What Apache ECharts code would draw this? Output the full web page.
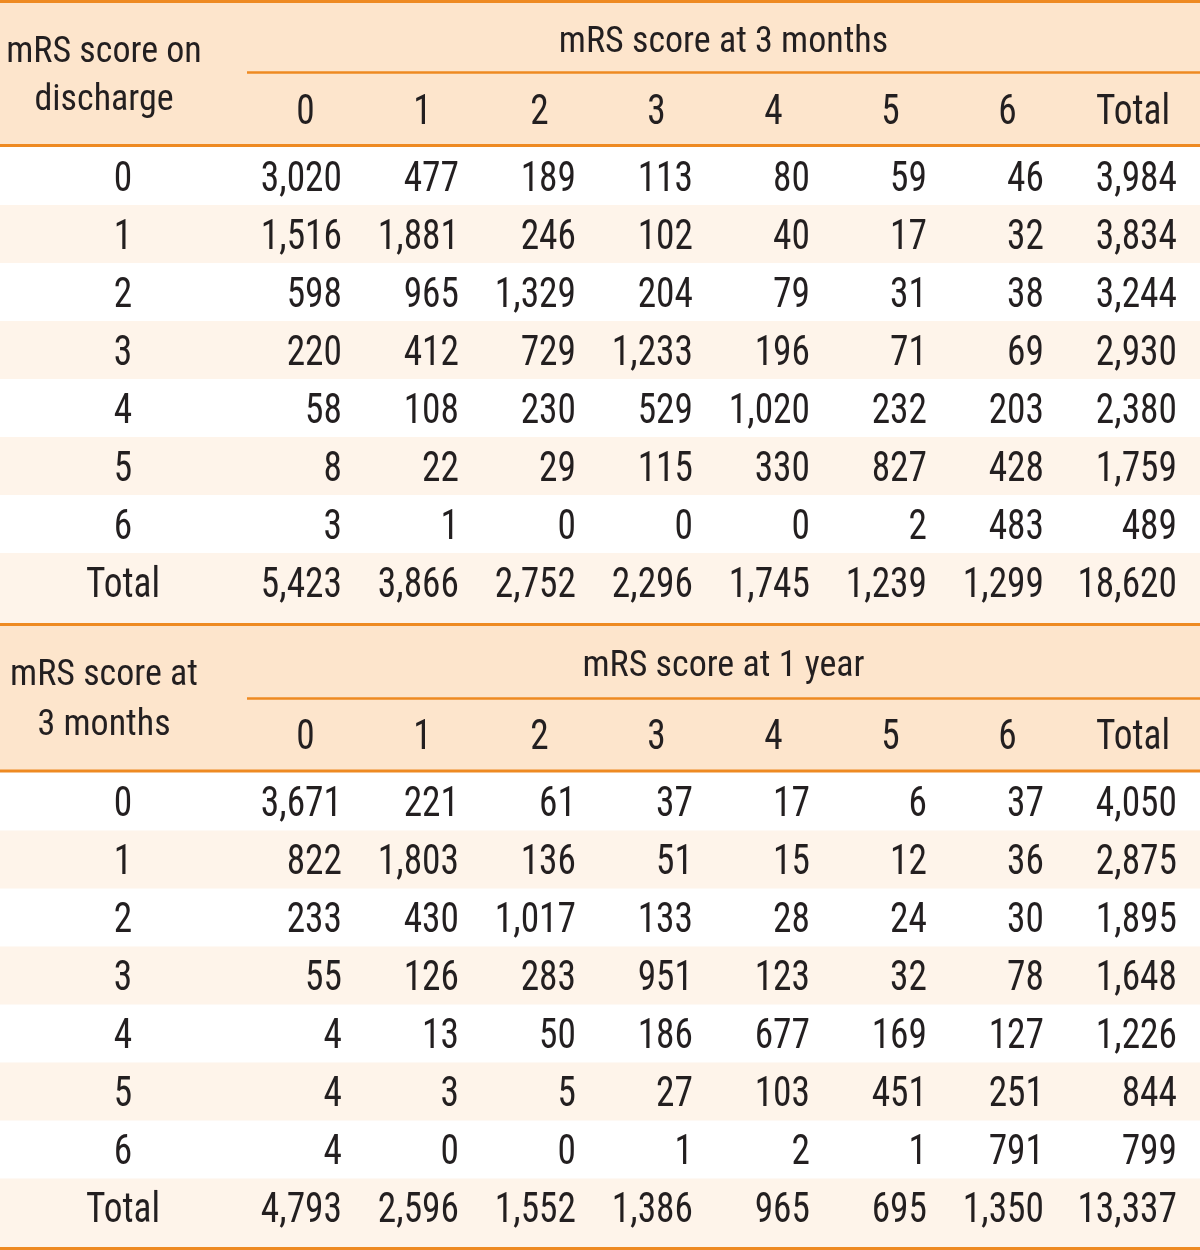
<!DOCTYPE html>
<html>
<head>
<meta charset="utf-8">
<script src="https://cdn.jsdelivr.net/npm/echarts@6/dist/echarts.min.js"></script>
<style>
html,body{margin:0;padding:0;background:#fff;}
#chart{width:1200px;height:1250px;}
</style>
</head>
<body>
<div id="chart"></div>
<script>
// ---- data ----
const colHeaders = ['0', '1', '2', '3', '4', '5', '6', 'Total'];
const rowLabels = ['0', '1', '2', '3', '4', '5', '6', 'Total'];

const table1ColTitle = 'mRS score at 3 months';
const table1RowTitle = ['mRS score on', 'discharge'];
const dischargeTo3m = [
  [3020, 477, 189, 113, 80, 59, 46, 3984],
  [1516, 1881, 246, 102, 40, 17, 32, 3834],
  [598, 965, 1329, 204, 79, 31, 38, 3244],
  [220, 412, 729, 1233, 196, 71, 69, 2930],
  [58, 108, 230, 529, 1020, 232, 203, 2380],
  [8, 22, 29, 115, 330, 827, 428, 1759],
  [3, 1, 0, 0, 0, 2, 483, 489],
  [5423, 3866, 2752, 2296, 1745, 1239, 1299, 18620]
];

const table2ColTitle = 'mRS score at 1 year';
const table2RowTitle = ['mRS score at', '3 months'];
const threeMTo1y = [
  [3671, 221, 61, 37, 17, 6, 37, 4050],
  [822, 1803, 136, 51, 15, 12, 36, 2875],
  [233, 430, 1017, 133, 28, 24, 30, 1895],
  [55, 126, 283, 951, 123, 32, 78, 1648],
  [4, 13, 50, 186, 677, 169, 127, 1226],
  [4, 3, 5, 27, 103, 451, 251, 844],
  [4, 0, 0, 1, 2, 1, 791, 799],
  [4793, 2596, 1552, 1386, 965, 695, 1350, 13337]
];

// ---- layout / style (kept separate from data) ----
const FONT = "'Liberation Sans Narrow', 'Roboto Condensed', 'DejaVu Sans Condensed', sans-serif";
const TEXT = '#231f20';
const LINE = '#ee8a22';
const HEAD_BG = '#fde5cc';
const STRIPE_BG = '#fef4ea';
const W = 1200;
const labelColW = 247;
const colW = 117;
const rightPad = 22;
const rowH = 58;
const NUM_SIZE = 42, NUM_SCALE = 0.89;
const HEAD_SIZE = 36, HEAD_SCALE = 1;

function colLeft(i) { return labelColW + i * colW; }
function colRight(i) { return i === colHeaders.length - 1 ? W : labelColW + (i + 1) * colW; }

const tables = [
  { topLineY: 1.5, titleY: 43, subLineY: 72.5, colHeadY: 113, headLineY: 145.5, rowsTop: 147, totalBottom: 623,
    colTitle: table1ColTitle, rowTitle: table1RowTitle, values: dischargeTo3m, rowTitleY: [53, 101] },
  { topLineY: 624.5, titleY: 667, subLineY: 698.5, colHeadY: 738, headLineY: 771, rowsTop: 772.5, totalBottom: 1247,
    colTitle: table2ColTitle, rowTitle: table2RowTitle, values: threeMTo1y, rowTitleY: [676, 726], bottomLineY: 1248.5 }
];

// Build element descriptors
const rects = [];   // [x1, y1, x2, y2, color]
const lines = [];   // [x1, y, x2, width]
const texts = [];   // [x, y, text, align, size, scaleX]

tables.forEach(t => {
  const headTop = t.topLineY + 1.5;
  rects.push([0, headTop, W, t.headLineY, HEAD_BG]);
  for (let r = 0; r < rowLabels.length; r++) {
    const y1 = t.rowsTop + r * rowH;
    const y2 = r === rowLabels.length - 1 ? t.totalBottom : y1 + rowH;
    if (r % 2 === 1) rects.push([0, y1, W, y2, STRIPE_BG]);
  }
  lines.push([0, t.topLineY, W, 3]);
  lines.push([labelColW, t.subLineY, W, 2.5]);
  lines.push([0, t.headLineY, W, 3]);
  if (t.bottomLineY) lines.push([0, t.bottomLineY, W, 3]);

  texts.push([(labelColW + W) / 2, t.titleY, t.colTitle, 'center', HEAD_SIZE, HEAD_SCALE]);
  texts.push([104, t.rowTitleY[0], t.rowTitle[0], 'center', HEAD_SIZE, HEAD_SCALE]);
  texts.push([104, t.rowTitleY[1], t.rowTitle[1], 'center', HEAD_SIZE, HEAD_SCALE]);
  colHeaders.forEach((h, i) => {
    const cx = i === colHeaders.length - 1 ? 1133 : (colLeft(i) + colRight(i)) / 2;
    texts.push([cx, t.colHeadY, h, 'center', NUM_SIZE, NUM_SCALE]);
  });
  rowLabels.forEach((lab, r) => {
    const cy = t.rowsTop + r * rowH + rowH / 2 + 4;
    texts.push([123, cy, lab, 'center', NUM_SIZE, NUM_SCALE]);
    t.values[r].forEach((v, i) => {
      texts.push([colRight(i) - rightPad - (i === colHeaders.length - 1 ? 1 : 0), cy, v.toLocaleString('en-US'), 'right', NUM_SIZE, NUM_SCALE]);
    });
  });
});

const chart = echarts.init(document.getElementById('chart'), null, { renderer: 'canvas' });
chart.setOption({
  animation: false,
  backgroundColor: '#ffffff',
  grid: { left: 0, right: 0, top: 0, bottom: 0 },
  xAxis: { type: 'value', min: 0, max: W, show: false },
  yAxis: { type: 'value', min: 0, max: 1250, inverse: true, show: false },
  series: [
    {
      type: 'custom', z: 1, silent: true,
      data: rects,
      encode: { x: [0, 2], y: [1, 3] },
      renderItem: (params, api) => {
        const p1 = api.coord([api.value(0), api.value(1)]);
        const p2 = api.coord([api.value(2), api.value(3)]);
        return { type: 'rect', shape: { x: p1[0], y: p1[1], width: p2[0] - p1[0], height: p2[1] - p1[1] },
                 style: { fill: rects[params.dataIndex][4] } };
      }
    },
    {
      type: 'custom', z: 2, silent: true,
      data: lines,
      encode: { x: [0, 2], y: 1 },
      renderItem: (params, api) => {
        const p1 = api.coord([api.value(0), api.value(1)]);
        const p2 = api.coord([api.value(2), api.value(1)]);
        const w = api.value(3);
        return { type: 'rect', shape: { x: p1[0], y: p1[1] - w / 2, width: p2[0] - p1[0], height: w },
                 style: { fill: LINE } };
      }
    },
    {
      type: 'custom', z: 3, silent: true,
      data: texts.map(d => [d[0], d[1]]),
      encode: { x: 0, y: 1 },
      renderItem: (params, api) => {
        const d = texts[params.dataIndex];
        const p = api.coord([d[0], d[1]]);
        return { type: 'text', x: p[0], y: p[1], scaleX: d[5],
                 style: { text: d[2], fill: TEXT, font: d[4] + 'px ' + FONT, align: d[3], verticalAlign: 'middle' } };
      }
    }
  ]
});
</script>
</body>
</html>
